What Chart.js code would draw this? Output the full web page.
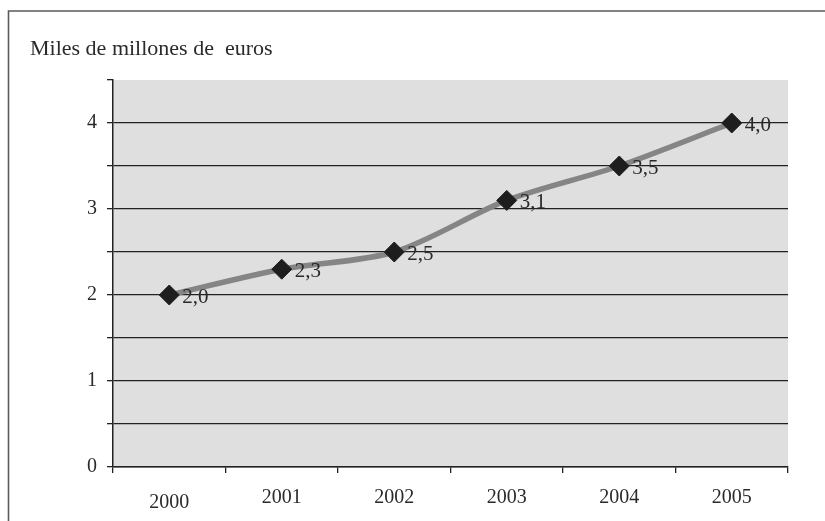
<!DOCTYPE html>
<html>
<head>
<meta charset="utf-8">
<script src="https://cdn.jsdelivr.net/npm/chart.js@4/dist/chart.umd.min.js"></script>
<style>
  html, body { margin: 0; padding: 0; background: #ffffff; }
  #wrap { position: relative; width: 825px; height: 521px; overflow: hidden; }
  canvas { display: block; }
</style>
</head>
<body>
<div id="wrap"><canvas id="chart" width="825" height="521"></canvas></div>
<script>
const years = ['2000', '2001', '2002', '2003', '2004', '2005'];
const values = [2.0, 2.3, 2.5, 3.1, 3.5, 4.0];
const yTickLabels = ['0', '1', '2', '3', '4'];
const unitTitle = 'Miles de millones de  euros';

const SERIF = '"Liberation Serif", "DejaVu Serif", serif';
const Y_MAX = 4.5;

// Outer frame, gray plot background and unit caption
const framePlugin = {
  id: 'frame',
  beforeDraw(chart) {
    const ctx = chart.ctx;
    const a = chart.chartArea;
    ctx.save();
    ctx.fillStyle = '#ffffff';
    ctx.fillRect(0, 0, chart.width, chart.height);
    ctx.strokeStyle = '#5a5a5a';
    ctx.lineWidth = 1.6;
    ctx.beginPath();
    ctx.moveTo(8.5, chart.height + 10);
    ctx.lineTo(8.5, 11);
    ctx.lineTo(chart.width + 10, 11);
    ctx.stroke();
    ctx.fillStyle = '#dfdfdf';
    ctx.fillRect(a.left, a.top, a.right - a.left, a.bottom - a.top);
    ctx.fillStyle = '#2a2a2a';
    ctx.font = '22px ' + SERIF;
    ctx.textBaseline = 'middle';
    ctx.textAlign = 'left';
    ctx.fillText(unitTitle, 30, 49);
    ctx.restore();
  }
};

// Value labels to the right of each marker, with decimal comma
const valueLabels = {
  id: 'valueLabels',
  afterDatasetsDraw(chart) {
    const ctx = chart.ctx;
    const meta = chart.getDatasetMeta(0);
    ctx.save();
    ctx.fillStyle = '#2a2a2a';
    ctx.font = '21px ' + SERIF;
    ctx.textBaseline = 'middle';
    ctx.textAlign = 'left';
    meta.data.forEach((pt, i) => {
      const txt = values[i].toFixed(1).replace('.', ',');
      ctx.fillText(txt, pt.x + 13, pt.y + 2);
    });
    ctx.restore();
  }
};

new Chart(document.getElementById('chart'), {
  type: 'line',
  data: {
    labels: years,
    datasets: [{
      data: values,
      borderColor: '#858585',
      borderWidth: 5.5,
      tension: 0.3,
      pointStyle: 'rectRot',
      pointRadius: 10,
      pointHoverRadius: 10,
      pointBackgroundColor: '#1e1e1e',
      pointBorderColor: '#1e1e1e',
      pointBorderWidth: 1,
      fill: false
    }]
  },
  options: {
    responsive: false,
    animation: false,
    devicePixelRatio: 1,
    layout: { padding: { top: 80, right: 37, left: 0, bottom: 0 } },
    plugins: {
      legend: { display: false },
      tooltip: { enabled: false },
      title: { display: false }
    },
    scales: {
      x: {
        offset: true,
        grid: {
          offset: true,
          drawOnChartArea: false,
          drawTicks: true,
          tickLength: 6,
          color: '#222222',
          lineWidth: 1.3
        },
        border: { display: true, color: '#222222', width: 1.5 },
        ticks: {
          color: '#2a2a2a',
          padding: 13,
          maxRotation: 0,
          font: (c) => ({ family: SERIF, size: 20, lineHeight: c.index === 0 ? 1.7 : 1.2 })
        },
        afterFit(scale) { scale.height = 54; }
      },
      y: {
        min: 0,
        max: Y_MAX,
        grid: {
          drawOnChartArea: true,
          drawTicks: true,
          tickLength: 6,
          color: (c) => (c.tick && c.tick.value === Y_MAX ? 'rgba(0,0,0,0)' : '#222222'),
          tickColor: '#222222',
          lineWidth: 1.3
        },
        border: { display: true, color: '#222222', width: 1.5 },
        ticks: {
          stepSize: 0.5,
          color: '#2a2a2a',
          padding: 10,
          font: { family: SERIF, size: 20 },
          callback: (v) => {
            const idx = yTickLabels.indexOf(String(v));
            return idx >= 0 ? yTickLabels[idx] : '';
          }
        },
        afterFit(scale) { scale.width = 113; }
      }
    }
  },
  plugins: [framePlugin, valueLabels]
});
</script>
</body>
</html>
